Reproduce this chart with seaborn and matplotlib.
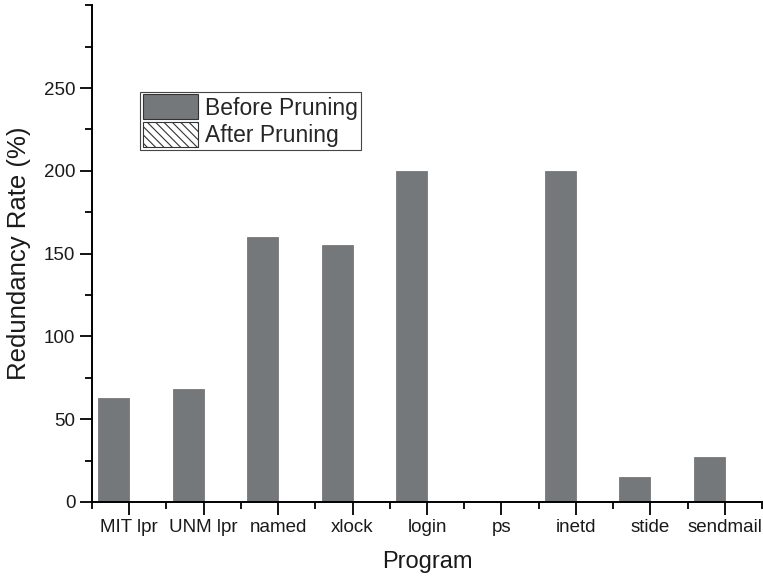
import matplotlib
matplotlib.use("Agg")
import matplotlib.pyplot as plt
from matplotlib.patches import Patch
from matplotlib.ticker import MultipleLocator, FixedLocator
import seaborn as sns
import pandas as pd
import numpy as np

programs = ["MIT lpr", "UNM lpr", "named", "xlock", "login", "ps", "inetd", "stide", "sendmail"]
before_pruning = [63, 68, 160, 155, 200, 0, 200, 15, 27]
after_pruning = [0, 0, 0, 0, 0, 0, 0, 0, 0]
stages = ["Before Pruning", "After Pruning"]

bar_grey = "#75787b"

df = pd.DataFrame({
    "Program": programs * 2,
    "Rate": before_pruning + after_pruning,
    "Stage": [stages[0]] * len(programs) + [stages[1]] * len(programs),
})

sns.set_theme(style="ticks")
plt.rcParams["font.family"] = ["Liberation Sans", "DejaVu Sans"]
plt.rcParams["hatch.linewidth"] = 0.8

fig = plt.figure(figsize=(7.63, 5.80), dpi=100)
ax = fig.add_axes([0.1206, 0.1345, 0.8781, 0.8565])

sns.barplot(data=df, x="Program", y="Rate", hue="Stage", order=programs,
            hue_order=stages, palette=[bar_grey, "white"], width=0.83,
            errorbar=None, ax=ax, legend=False, saturation=1)

for p in ax.containers[0]:
    p.set_edgecolor(bar_grey)
    p.set_linewidth(0.6)
for p in ax.containers[1]:
    p.set_hatch("\\\\\\\\")
    p.set_edgecolor("black")
    p.set_linewidth(0.6)

ax.set_xlim(-0.5, len(programs) - 0.5)
ax.set_ylim(0, 300)
ax.yaxis.set_major_locator(FixedLocator([0, 50, 100, 150, 200, 250]))
ax.yaxis.set_minor_locator(MultipleLocator(25))
ax.xaxis.set_minor_locator(FixedLocator(np.arange(-0.5, len(programs), 1.0)))

for side in ("top", "right"):
    ax.spines[side].set_visible(False)
for side in ("left", "bottom"):
    ax.spines[side].set_color("black")
    ax.spines[side].set_linewidth(1.4)

ax.tick_params(axis="both", which="major", direction="out", length=9, width=1.3,
               color="black", labelsize=13.5, labelcolor="#1a1a1a", pad=3)
ax.tick_params(axis="both", which="minor", direction="out", length=5, width=1.3,
               color="black")

ax.set_xlabel("Program", fontsize=17, color="#1a1a1a", labelpad=11)
ax.set_ylabel("Redundancy Rate (%)", fontsize=18.5, color="#1a1a1a", labelpad=9)

handles = [
    Patch(facecolor=bar_grey, edgecolor="#333333", linewidth=0.8, label=stages[0]),
    Patch(facecolor="white", edgecolor="#333333", linewidth=0.8, hatch="\\\\\\\\", label=stages[1]),
]
leg = ax.legend(handles=handles, loc="upper left", bbox_to_anchor=(0.072, 0.826),
                fontsize=16.5, frameon=True, fancybox=False, framealpha=1,
                edgecolor="#444444", borderpad=0.12, labelspacing=0.1,
                handlelength=2.4, handleheight=1.3, handletextpad=0.3,
                borderaxespad=0)
leg.get_frame().set_linewidth(0.8)

fig.savefig("out.png", dpi=100)
